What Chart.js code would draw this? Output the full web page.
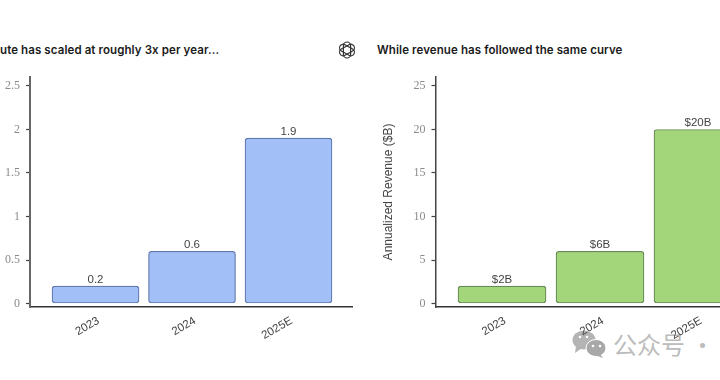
<!DOCTYPE html>
<html lang="en">
<head>
    <meta charset="UTF-8">
    <title>Compute and Revenue</title>
    <script src="https://cdn.jsdelivr.net/npm/chart.js"></script>
    <style>
        html, body { margin: 0; padding: 0; background: #fff; }
        #page { position: relative; width: 720px; height: 380px; overflow: hidden; background: #fff; }
        #page canvas { position: absolute; }
        #computeChart { left: 0; top: 60px; }
        #revenueChart { left: 375px; top: 60px; }
        .title {
            position: absolute; top: 43px; white-space: nowrap;
            font: 600 11.5px Inter, sans-serif; letter-spacing: 0.1px; color: #1a1a1a;
        }
        #wmText {
            position: absolute; left: 613px; top: 328px; white-space: nowrap;
            font: 400 24px "Noto Sans CJK SC", sans-serif; line-height: 32px; color: #bcbcbc;
        }
        svg { position: absolute; }
    </style>
</head>
<body>
<div id="page">
    <div class="title" style="left:0">ute has scaled at roughly 3x per year...</div>
    <div class="title" style="left:377px">While revenue has followed the same curve</div>
    <svg style="left:338px;top:41px" width="18" height="18" viewBox="-9 -9 18 18" fill="none" stroke="#333" stroke-width="1.2">
        <rect x="-3.6" y="-8" width="7.2" height="16" rx="3.6"/>
        <rect x="-3.6" y="-8" width="7.2" height="16" rx="3.6" transform="rotate(60)"/>
        <rect x="-3.6" y="-8" width="7.2" height="16" rx="3.6" transform="rotate(120)"/>
    </svg>
    <svg style="left:571px;top:329px" width="36" height="30" viewBox="0 0 36 30">
        <ellipse cx="13" cy="11" rx="11.5" ry="9.5" fill="#b4b4b4"/>
        <path d="M5 17 L4 24 L11 19 Z" fill="#b4b4b4"/>
        <ellipse cx="25" cy="19" rx="10" ry="8.5" fill="#a8a8a8" stroke="#fff" stroke-width="1"/>
        <path d="M29 25 L32 29 L24 26 Z" fill="#a8a8a8"/>
        <circle cx="22" cy="17" r="1.3" fill="#fff"/><circle cx="29" cy="17" r="1.3" fill="#fff"/>
        <circle cx="9" cy="8" r="1.3" fill="#fff"/><circle cx="16" cy="8" r="1.3" fill="#fff"/>
    </svg>
    <div id="wmText">公众号 ·</div>
    <canvas id="computeChart" width="360" height="300"></canvas>
    <canvas id="revenueChart" width="400" height="300"></canvas>
</div>

<script>
    const years = ['2023', '2024', '2025E'];
    const computeValues = [0.2, 0.6, 1.9];
    const computeLabels = ['0.2', '0.6', '1.9'];
    const computeTicks = [0, 0.5, 1, 1.5, 2, 2.5];
    const revenueValues = [2, 6, 20];
    const revenueLabels = ['$2B', '$6B', '$20B'];
    const revenueTicks = [0, 5, 10, 15, 20, 25];

    // value text above each bar
    const barLabels = {
        id: 'barLabels',
        afterDatasetsDraw(chart, args, opts) {
            const ctx = chart.ctx;
            ctx.save();
            ctx.font = '11.5px "Liberation Sans", sans-serif';
            ctx.fillStyle = '#444';
            ctx.textAlign = 'center';
            ctx.textBaseline = 'bottom';
            chart.getDatasetMeta(0).data.forEach((bar, i) => {
                ctx.fillText(opts.texts[i], bar.x, bar.y - 1);
            });
            ctx.restore();
        }
    };

    function makeChart(id, values, labels, ticks, cfg) {
        return new Chart(document.getElementById(id), {
            type: 'bar',
            data: {
                datasets: [{
                    data: values.map((v, i) => ({ x: i, y: v })),
                    backgroundColor: cfg.fill,
                    borderColor: cfg.edge,
                    borderWidth: 1.2,
                    borderRadius: 3,
                    borderSkipped: false,
                    barThickness: cfg.barWidth
                }]
            },
            plugins: [barLabels],
            options: {
                responsive: false,
                animation: false,
                layout: { padding: { top: 17, right: cfg.right, left: 0, bottom: 0 } },
                plugins: {
                    legend: { display: false },
                    tooltip: { enabled: false },
                    barLabels: { texts: labels }
                },
                scales: {
                    x: {
                        type: 'linear',
                        offset: false,
                        bounds: 'data',
                        min: cfg.xMin,
                        max: cfg.xMax,
                        afterBuildTicks: s => { s.ticks = years.map((_, i) => ({ value: i })); },
                        afterFit: s => { s.height = 53; },
                        grid: { display: false },
                        border: { color: '#333', width: 1.5 },
                        ticks: {
                            autoSkip: false,
                            minRotation: 30,
                            maxRotation: 30,
                            padding: -1,
                            labelOffset: 3,
                            color: '#444',
                            font: { family: '"Liberation Sans", sans-serif', size: 11.5 },
                            callback: v => years[v]
                        }
                    },
                    y: {
                        bounds: 'data',
                        min: cfg.yMin,
                        max: cfg.yMax,
                        afterBuildTicks: s => { s.ticks = ticks.map(v => ({ value: v })); },
                        afterFit: s => { s.width = cfg.axisWidth; },
                        grid: { drawOnChartArea: false, drawTicks: true, tickLength: 4, tickColor: '#444', tickWidth: 1.2 },
                        border: { color: cfg.axisColor, width: cfg.axisLine },
                        title: cfg.yTitle ? {
                            display: true,
                            text: cfg.yTitle,
                            color: '#444',
                            padding: { top: 6, bottom: 3 },
                            font: { family: '"Liberation Sans", sans-serif', size: 12 }
                        } : { display: false },
                        ticks: {
                            autoSkip: false,
                            padding: 6,
                            color: '#8a8a8a',
                            font: { family: '"Liberation Serif", serif', size: 12 },
                            callback: v => String(v)
                        }
                    }
                }
            }
        });
    }

    makeChart('computeChart', computeValues, computeLabels, computeTicks, {
        fill: '#a3bff8', edge: '#5f78ad', barWidth: 87, right: 8, axisWidth: 30,
        axisColor: '#666', axisLine: 2,
        xMin: -0.679, xMax: 2.658, yMin: -0.04, yMax: 2.603
    });

    makeChart('revenueChart', revenueValues, revenueLabels, revenueTicks, {
        fill: '#a3d67a', edge: '#688a58', barWidth: 88, right: 15, axisWidth: 60.5,
        axisColor: '#444', axisLine: 1.5, yTitle: 'Annualized Revenue ($B)',
        xMin: -0.679, xMax: 2.633, yMin: -0.4, yMax: 26.03
    });
</script>
</body>
</html>
